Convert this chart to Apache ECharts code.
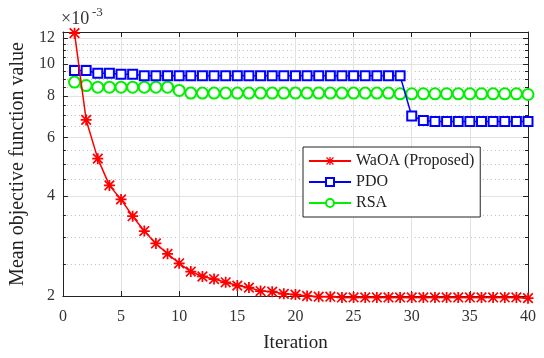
<!DOCTYPE html>
<html><head><meta charset="utf-8">
<script src="https://cdn.jsdelivr.net/npm/echarts@6/dist/echarts.min.js"></script>
<style>html,body{margin:0;padding:0;background:#fff}#c{width:544px;height:358px}</style>
</head><body><div id="c"></div>
<script>
const iterations = [1,2,3,4,5,6,7,8,9,10,11,12,13,14,15,16,17,18,19,20,21,22,23,24,25,26,27,28,29,30,31,32,33,34,35,36,37,38,39,40];
const waoa = [12.4,6.79,5.19,4.31,3.91,3.48,3.14,2.88,2.68,2.51,2.37,2.29,2.25,2.20,2.15,2.12,2.07,2.06,2.03,2.02,2.00,1.99,1.99,1.98,1.98,1.98,1.98,1.98,1.98,1.98,1.98,1.98,1.98,1.98,1.98,1.98,1.98,1.98,1.98,1.97];
const pdo = [9.57,9.57,9.39,9.39,9.33,9.33,9.22,9.22,9.22,9.22,9.22,9.22,9.22,9.22,9.22,9.22,9.22,9.22,9.22,9.22,9.22,9.22,9.22,9.22,9.22,9.22,9.22,9.22,9.22,6.98,6.76,6.72,6.72,6.72,6.72,6.72,6.72,6.72,6.72,6.72];
const rsa = [8.83,8.62,8.52,8.52,8.52,8.52,8.52,8.52,8.52,8.33,8.18,8.18,8.18,8.18,8.18,8.18,8.18,8.18,8.18,8.18,8.18,8.18,8.18,8.18,8.18,8.18,8.18,8.18,8.14,8.14,8.14,8.14,8.14,8.14,8.14,8.14,8.14,8.14,8.14,8.10];
const yMajorTicks = [2,4,6,8,10,12];
const yMinorTicks = [2.5,3,3.5,4.5,5,5.5,6.5,7,7.5,8.5,9,9.5,10.5,11,11.5,12.5];
const seriesNames = ['WaOA (Proposed)','PDO','RSA'];

const FONT = 'Liberation Serif';
const asterisk = 'path://M4.2 0L5.8 0L5.8 10L4.2 10Z M0 4.2L10 4.2L10 5.8L0 5.8Z M0.1 1.2L1.2 0.1L9.9 8.8L8.8 9.9Z M8.8 0.1L9.9 1.2L1.2 9.9L0.1 8.8Z';
const pair = (arr) => iterations.map((x, i) => [x, arr[i]]);

const chart = echarts.init(document.getElementById('c'), null, {renderer: 'canvas'});
const yBase = {type: 'log', logBase: 10, min: 2, max: 12.5, gridIndex: 0};
const tickLabel = {fontFamily: FONT, fontSize: 16, color: '#333'};
chart.setOption({
  animation: false,
  backgroundColor: '#fff',
  textStyle: {fontFamily: FONT},
  grid: {left: 61, right: 16, top: 32, bottom: 62},
  graphic: [
    {type: 'text', left: 61, top: 10, style: {text: '×10', fontFamily: FONT, fontSize: 18, fill: '#333'}},
    {type: 'text', left: 92, top: 6, style: {text: '-3', fontFamily: FONT, fontSize: 13, fill: '#333'}}
  ],
  legend: {
    orient: 'vertical', left: 303, top: 147,
    data: seriesNames,
    backgroundColor: '#fff', borderColor: '#222', borderWidth: 1,
    padding: [6, 6, 6, 5], itemGap: 5, itemWidth: 42, itemHeight: 10,
    textStyle: {fontFamily: FONT, fontSize: 16, color: '#222'}
  },
  xAxis: [
    {type: 'value', min: 0, max: 40, interval: 5, position: 'bottom',
     name: 'Iteration', nameLocation: 'middle', nameGap: 38,
     nameTextStyle: {fontFamily: FONT, fontSize: 19, color: '#222'},
     axisLine: {lineStyle: {color: '#222', width: 1}},
     axisTick: {inside: true, length: 5, lineStyle: {color: '#222'}},
     axisLabel: Object.assign({margin: 13}, tickLabel),
     splitLine: {show: true, lineStyle: {color: '#e2e2e2', width: 1}}},
    {type: 'value', min: 0, max: 40, interval: 5, position: 'top',
     axisLine: {onZero: false, lineStyle: {color: '#222', width: 1}},
     axisTick: {inside: true, length: 5, lineStyle: {color: '#222'}},
     axisLabel: {show: false}, splitLine: {show: false}}
  ],
  yAxis: [
    Object.assign({}, yBase, {position: 'left',
      name: 'Mean objective function value', nameLocation: 'middle', nameGap: 30,
      nameTextStyle: {fontFamily: FONT, fontSize: 20, color: '#222'},
      axisLine: {show: true, lineStyle: {color: '#222', width: 1}},
      axisTick: {show: true, inside: true, length: 5, customValues: yMajorTicks, lineStyle: {color: '#222'}},
      axisLabel: Object.assign({customValues: yMajorTicks, margin: 8}, tickLabel),
      splitLine: {show: true, lineStyle: {color: '#e2e2e2', width: 1}}}),
    Object.assign({}, yBase, {position: 'left',
      axisLine: {show: false},
      axisTick: {show: true, inside: true, length: 3, customValues: yMinorTicks, lineStyle: {color: '#222'}},
      axisLabel: {show: false},
      splitLine: {show: true, lineStyle: {color: '#bdbdbd', width: 1, type: [1, 3]}}}),
    Object.assign({}, yBase, {position: 'right',
      axisLine: {show: true, lineStyle: {color: '#222', width: 1}},
      axisTick: {show: true, inside: true, length: 5, customValues: yMajorTicks, lineStyle: {color: '#222'}},
      axisLabel: {show: false}, splitLine: {show: false}}),
    Object.assign({}, yBase, {position: 'right',
      axisLine: {show: false},
      axisTick: {show: true, inside: true, length: 3, customValues: yMinorTicks, lineStyle: {color: '#222'}},
      axisLabel: {show: false}, splitLine: {show: false}})
  ],
  series: [
    {name: seriesNames[0], type: 'line', data: pair(waoa), clip: false, z: 5,
     symbol: asterisk, symbolSize: 11, showAllSymbol: true,
     itemStyle: {color: '#ff0000', borderWidth: 0},
     lineStyle: {color: '#ff0000', width: 1.5}},
    {name: seriesNames[1], type: 'line', data: pair(pdo), clip: false, z: 4,
     symbol: 'emptyRect', symbolSize: 9, showAllSymbol: true,
     itemStyle: {color: '#0000ff', borderWidth: 1.5},
     lineStyle: {color: '#0000ff', width: 1.5}},
    {name: seriesNames[2], type: 'line', data: pair(rsa), clip: false, z: 3,
     symbol: 'emptyCircle', symbolSize: 11, showAllSymbol: true,
     itemStyle: {color: '#00f000', borderWidth: 1.5},
     lineStyle: {color: '#00f000', width: 1.5}}
  ]
});
</script></body></html>
